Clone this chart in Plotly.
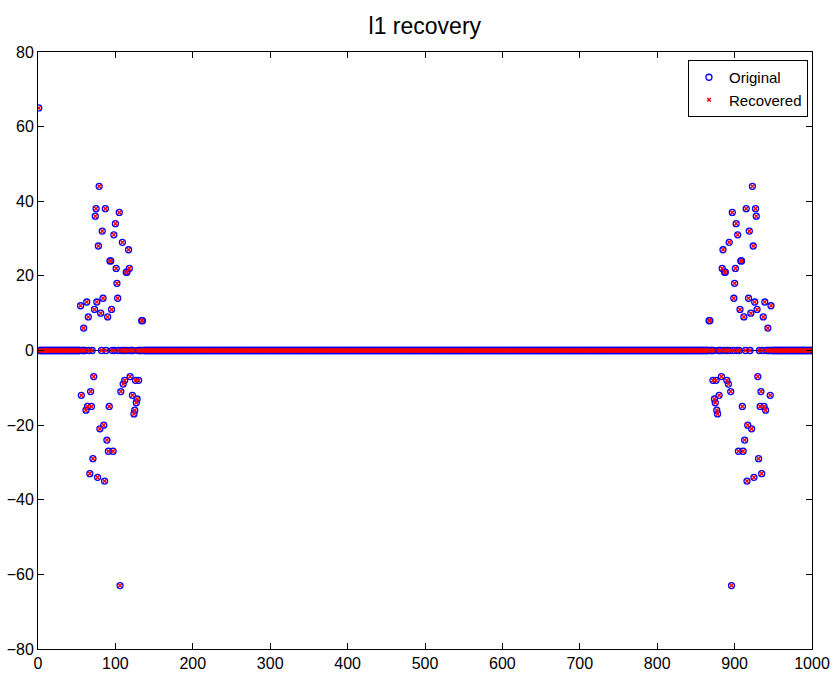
import plotly.graph_objects as go

N = 1000
# nonzero entries (index, value), left cluster
left_idx = [1, 55, 56, 59, 62, 63, 64, 65, 67, 68, 69, 71, 72, 73, 74, 75, 76, 77, 78, 79,
            80, 81, 83, 84, 85, 86, 87, 89, 90, 91, 92, 93, 94, 95, 97, 98, 100, 101, 102, 103,
            105, 106, 107, 109, 110, 112, 114, 115, 117, 118, 119, 122, 124, 125, 126, 127, 128,
            130, 134, 135]
left_val = [65, 12, -12, 6, -16, 13, -15, 9, -33, -11, -15, -29, -7, 11, 36, 38, 13, -34, 28, 44,
            -21, 10, 32, 14, -20, -35, 38, -24, 9, -27, -15, 24, 24, 11, -27, 31, 34, 22, 18, 14,
            37, -63, -11, 29, -9, -8, 21, 21, 27, 22, -7, -12, -17, -16, -8, -14, -13,
            -8, 8, 8]
# right cluster
right_idx = [947, 946, 943, 940, 939, 938, 937, 935, 934, 933, 931, 930, 929, 928, 927, 926, 925,
             924, 923, 922, 921, 919, 918, 917, 916, 915, 913, 912, 911, 910, 909, 908, 907, 905,
             904, 902, 901, 900, 899, 897, 896, 895, 893, 892, 890, 888, 887, 885, 884, 883, 880,
             878, 877, 876, 875, 874, 872, 868, 867]
right_val = [12, -12, 6, -16, 13, -15, 9, -33, -11, -15, -29, -7, 11, 36, 38, 13, -34, 28, 44,
             -21, 10, 32, 14, -20, -35, 38, -24, 9, -27, -15, 24, 24, 11, -27, 31, 34, 22, 18, 14,
             37, -63, -11, 29, -9, -8, 21, 21, 27, 22, -7, -12, -17, -16, -8, -14, -13,
             -8, 8, 8]

x_ticks = list(range(0, 1001, 100))
y_ticks = list(range(-80, 81, 20))

idx = list(range(1, N + 1))
original = [0.0] * N
for i, v in zip(left_idx + right_idx, left_val + right_val):
    original[i - 1] = v
recovered = list(original)

FONT = "Liberation Sans, Arial, Helvetica, sans-serif"

fig = go.Figure()
fig.add_trace(go.Scatter(
    x=idx, y=original, mode="markers", name="Original",
    marker=dict(symbol="circle-open", size=6, color="#0000ff", line=dict(width=1.3, color="#0000ff")),
))
fig.add_trace(go.Scatter(
    x=idx, y=recovered, mode="markers", name="Recovered",
    marker=dict(symbol="x-thin-open", size=3.6, color="#ff0000", line=dict(width=1.4, color="#ff0000")),
))

fig.update_layout(
    width=833, height=677,
    margin=dict(l=38, r=21, t=52, b=28),
    paper_bgcolor="white", plot_bgcolor="white",
    font=dict(family=FONT, size=16, color="black"),
    title=dict(text="l1 recovery", x=0.51, xanchor="center", y=0.962, yanchor="middle",
               font=dict(size=23, color="black", family=FONT), automargin=False),
    showlegend=True,
    legend=dict(x=0.9948, y=0.9866, xanchor="right", yanchor="top",
                bgcolor="white", bordercolor="black", borderwidth=1,
                font=dict(size=15, family=FONT), tracegroupgap=0, itemwidth=30),
)
fig.update_xaxes(range=[0, 1000], tickvals=x_ticks, ticks="inside", ticklen=6,
                 showline=True, linecolor="black", linewidth=1, mirror="ticks",
                 showgrid=False, zeroline=False, tickcolor="black", automargin=False)
fig.update_yaxes(range=[-80, 80], tickvals=y_ticks, ticks="inside", ticklen=6,
                 showline=True, linecolor="black", linewidth=1, mirror="ticks",
                 showgrid=False, zeroline=True, zerolinecolor="black", zerolinewidth=1,
                 tickcolor="black", automargin=False)

fig.write_html("out.html", config={"displayModeBar": False},
               post_script="document.body.style.margin='0';")
